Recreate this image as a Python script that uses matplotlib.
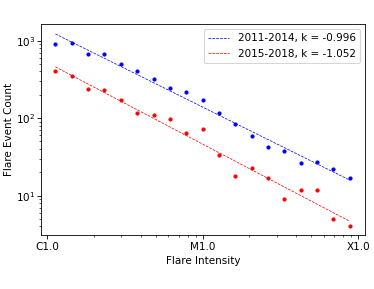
import numpy as np
import matplotlib
matplotlib.use('Agg')
import matplotlib.pyplot as plt

# bin centres (W/m^2), C1.0 .. X1.0
intensity = [1.129e-6, 1.438e-6, 1.833e-6, 2.336e-6, 2.976e-6, 3.793e-6, 4.833e-6,
             6.158e-6, 7.848e-6, 1.000e-5, 1.274e-5, 1.624e-5, 2.069e-5, 2.637e-5,
             3.360e-5, 4.281e-5, 5.456e-5, 6.952e-5, 8.859e-5]
count_1114 = [907, 933, 667, 673, 496, 406, 318, 248, 216, 172, 117, 83, 59, 42, 38, 26, 27, 22, 17]
count_1518 = [403, 353, 236, 231, 172, 118, 110, 97, 65, 73, 33, 18, 23, 17, 9, 12, 12, 5, 4]

# power law fits: log10(N) = b + k*log10(x)
k_1114, b_1114 = -0.996, -2.837
k_1518, b_1518 = -1.052, -3.595

x = np.array(intensity)
fit_1114 = 10 ** (b_1114 + k_1114 * np.log10(x))
fit_1518 = 10 ** (b_1518 + k_1518 * np.log10(x))

fig = plt.figure(figsize=(374 / 75, 289 / 75), dpi=75)
ax = fig.add_axes([0.110, 0.187, 0.866, 0.730])

ax.plot(x, count_1114, '.', color='blue')
ax.plot(x, fit_1114, '--', color='blue', lw=0.7, label='2011-2014, k = -0.996')
ax.plot(x, count_1518, '.', color='red')
ax.plot(x, fit_1518, '--', color='red', lw=0.7, label='2015-2018, k = -1.052')

ax.set_xscale('log')
ax.set_yscale('log')
ax.set_xlim(10 ** -6.039, 10 ** -3.955)
ax.set_ylim(3.11, 1641)
ax.set_xticks([1e-6, 1e-5, 1e-4])
ax.set_xticklabels(['C1.0', 'M1.0', 'X1.0'])
ax.tick_params(axis='y', pad=2.5)
ax.set_xlabel('Flare Intensity')
ax.set_ylabel('Flare Event Count', labelpad=1.5)
ax.legend(loc='upper right')

plt.savefig('out.png', dpi=75)
